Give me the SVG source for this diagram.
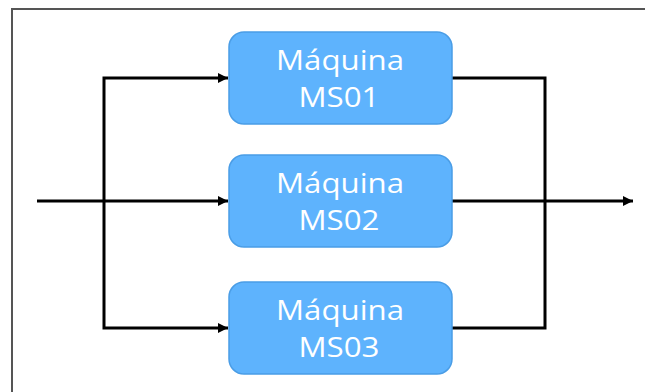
<svg xmlns="http://www.w3.org/2000/svg" width="645" height="392" viewBox="0 0 645 392">
  <style>
    .box { fill: #5eb3fd; stroke: #4a9de6; stroke-width: 1.5; }
    .lbl { font-family: "Open Sans", "Liberation Sans", sans-serif; font-size: 27px; fill: #ffffff; text-anchor: middle; }
    .wire { fill: none; stroke: #000000; stroke-width: 3; stroke-linejoin: miter; }
    .frame { fill: none; stroke: #555555; stroke-width: 2; }
  </style>
  <defs>
    <marker id="arrow" viewBox="0 0 10 10" refX="10" refY="5" markerWidth="12" markerHeight="10" markerUnits="userSpaceOnUse" orient="auto">
      <path d="M0,0 L10,5 L0,10 z" fill="#000000"/>
    </marker>
  </defs>

  <rect width="645" height="392" fill="#ffffff"/>

  <!-- figure frame -->
  <path class="frame" d="M12,392 V9 H645"/>

  <!-- connectors -->
  <g id="connectors">
    <path class="wire" d="M37,201 H228" marker-end="url(#arrow)"/>
    <path class="wire" d="M104,201 V78 H228" marker-end="url(#arrow)"/>
    <path class="wire" d="M104,201 V328 H228" marker-end="url(#arrow)"/>
    <path class="wire" d="M452,78 H545 V328 H452"/>
    <path class="wire" d="M452,201 H633" marker-end="url(#arrow)"/>
  </g>

  <g id="ms01">
    <rect class="box" x="229" y="32" width="223" height="92" rx="15" ry="15"/>
    <text class="lbl" x="340" y="70" textLength="128" lengthAdjust="spacingAndGlyphs">Máquina</text>
    <text class="lbl" x="339" y="107" textLength="81" lengthAdjust="spacingAndGlyphs">MS01</text>
  </g>

  <g id="ms02">
    <rect class="box" x="229" y="155" width="223" height="92" rx="15" ry="15"/>
    <text class="lbl" x="340" y="193" textLength="128" lengthAdjust="spacingAndGlyphs">Máquina</text>
    <text class="lbl" x="339" y="230" textLength="81" lengthAdjust="spacingAndGlyphs">MS02</text>
  </g>

  <g id="ms03">
    <rect class="box" x="229" y="282" width="223" height="92" rx="15" ry="15"/>
    <text class="lbl" x="340" y="320" textLength="128" lengthAdjust="spacingAndGlyphs">Máquina</text>
    <text class="lbl" x="339" y="357" textLength="81" lengthAdjust="spacingAndGlyphs">MS03</text>
  </g>
</svg>
